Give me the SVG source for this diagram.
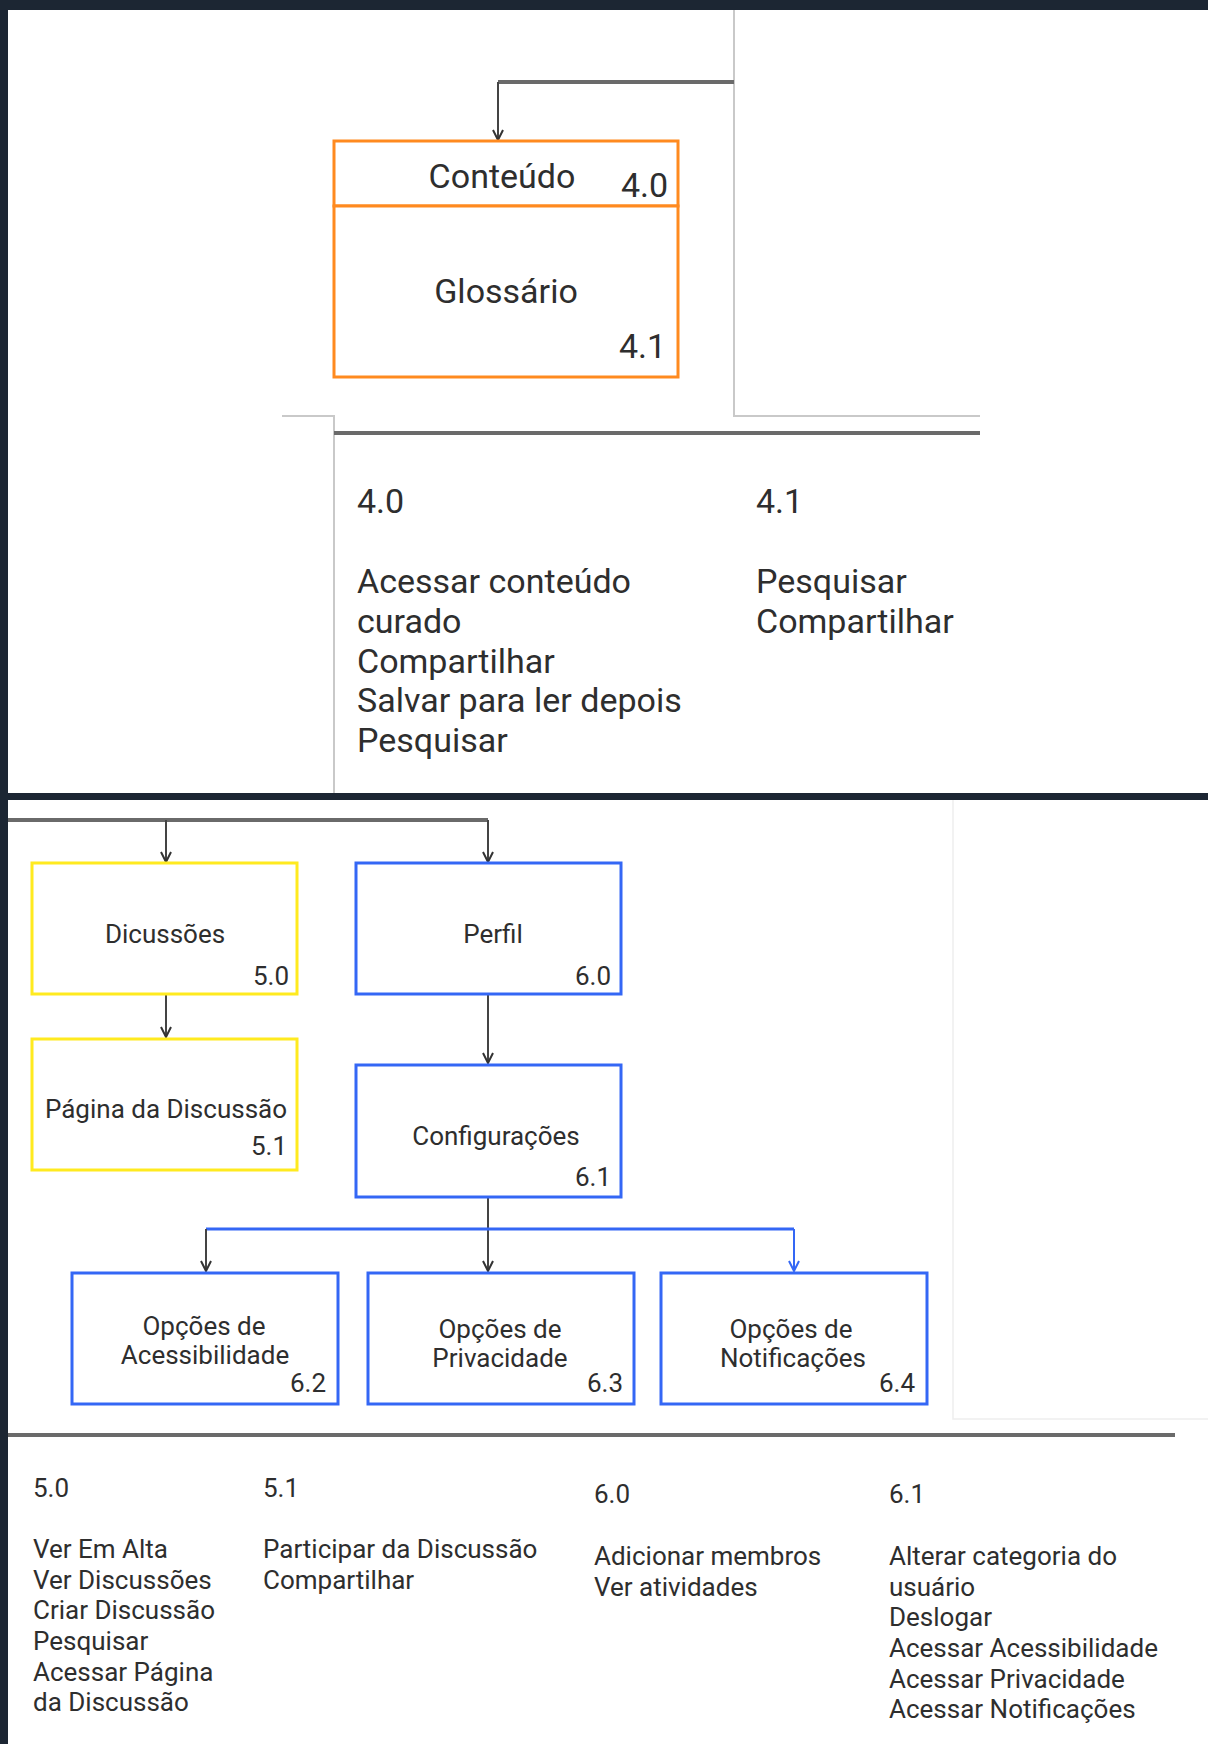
<svg xmlns="http://www.w3.org/2000/svg" width="1208" height="1744" viewBox="0 0 1208 1744">
<style>
.t34{font-family:Roboto,"Liberation Sans",sans-serif;font-size:34px;fill:#2e2e2e}
.t26{font-family:Roboto,"Liberation Sans",sans-serif;font-size:26px;fill:#2e2e2e}
.mid{text-anchor:middle}
.orange{fill:#fff;stroke:#ff8a1f;stroke-width:3}
.yellow{fill:#fff;stroke:#ffea1f;stroke-width:3}
.blue{fill:#fff;stroke:#3467f5;stroke-width:3}
.thick{stroke:#6a6a6a;stroke-width:4;fill:none}
.thin{stroke:#c9c9c9;stroke-width:2;fill:none}
.faint{stroke:#eeeeee;stroke-width:1.5;fill:none}
.conn{stroke:#444;stroke-width:2;fill:none}
.connb{stroke:#3467f5;stroke-width:3;fill:none}
</style>
<defs>
<marker id="arr" viewBox="0 0 12 12" refX="11" refY="6" markerWidth="12" markerHeight="12" markerUnits="userSpaceOnUse" orient="auto">
<path d="M1,1 L11,6 L1,11" fill="none" stroke="#333" stroke-width="2"/>
</marker>
<marker id="arrb" viewBox="0 0 12 12" refX="11" refY="6" markerWidth="12" markerHeight="12" markerUnits="userSpaceOnUse" orient="auto">
<path d="M1,1 L11,6 L1,11" fill="none" stroke="#3467f5" stroke-width="2"/>
</marker>
</defs>
<rect x="0" y="0" width="1208" height="1744" fill="#ffffff"/>
<g id="frame">
<rect x="0" y="0" width="1208" height="10" fill="#1c2633"/>
<rect x="0" y="0" width="8" height="1744" fill="#1c2633"/>
<rect x="0" y="793" width="1208" height="7" fill="#1c2633"/>
<path class="thin" d="M734,10 V416 H980"/>
<path class="thin" d="M282,416 H334 V793"/>
<path class="thick" d="M334,433 H980"/>
<path class="faint" d="M953,800 V1419 H1208"/>
<path class="thick" d="M8,1435 H1175"/>
</g>
<g id="connectors">
<path class="thick" d="M734,82 H498"/>
<path class="conn" d="M498,82 V140" marker-end="url(#arr)"/>
<path class="thick" d="M8,820 H488"/>
<path class="conn" d="M166,820 V862" marker-end="url(#arr)"/>
<path class="conn" d="M488,820 V862" marker-end="url(#arr)"/>
<path class="conn" d="M166,995 V1037" marker-end="url(#arr)"/>
<path class="conn" d="M488,995 V1063" marker-end="url(#arr)"/>
<path class="conn" d="M488,1198 V1271" marker-end="url(#arr)"/>
<path class="connb" d="M206,1229 H794"/>
<path class="conn" d="M206,1229 V1271" marker-end="url(#arr)"/>
<path class="conn" d="M794,1229 V1271" style="stroke:#3467f5" marker-end="url(#arrb)"/>
</g>
<g id="n40">
<rect class="orange" x="334" y="141" width="344" height="65"/>
<text class="t34 mid" x="502" y="188">Conteúdo</text>
<text class="t34" x="621" y="197">4.0</text>
</g>
<g id="n41">
<rect class="orange" x="334" y="206" width="344" height="171"/>
<text class="t34 mid" x="506" y="303">Glossário</text>
<text class="t34" x="619" y="358">4.1</text>
</g>
<g id="legend4">
<text class="t34" x="357" y="513">4.0</text>
<text class="t34" x="357" y="593">Acessar conteúdo</text>
<text class="t34" x="357" y="633">curado</text>
<text class="t34" x="357" y="673">Compartilhar</text>
<text class="t34" x="357" y="712">Salvar para ler depois</text>
<text class="t34" x="357" y="752">Pesquisar</text>
<text class="t34" x="756" y="513">4.1</text>
<text class="t34" x="756" y="593">Pesquisar</text>
<text class="t34" x="756" y="633">Compartilhar</text>
</g>
<g id="n50">
<rect class="yellow" x="32" y="863" width="265" height="131"/>
<text class="t26 mid" x="165" y="943">Dicussões</text>
<text class="t26" x="253" y="985">5.0</text>
</g>
<g id="n51">
<rect class="yellow" x="32" y="1039" width="265" height="131"/>
<text class="t26 mid" x="166" y="1118">Página da Discussão</text>
<text class="t26" x="251" y="1155">5.1</text>
</g>
<g id="n60">
<rect class="blue" x="356" y="863" width="265" height="131"/>
<text class="t26 mid" x="493" y="943">Perfil</text>
<text class="t26" x="575" y="985">6.0</text>
</g>
<g id="n61">
<rect class="blue" x="356" y="1065" width="265" height="132"/>
<text class="t26 mid" x="496" y="1145">Configurações</text>
<text class="t26" x="575" y="1186">6.1</text>
</g>
<g id="n62">
<rect class="blue" x="72" y="1273" width="266" height="131"/>
<text class="t26 mid" x="204" y="1335">Opções de</text>
<text class="t26 mid" x="205" y="1364">Acessibilidade</text>
<text class="t26" x="290" y="1392">6.2</text>
</g>
<g id="n63">
<rect class="blue" x="368" y="1273" width="266" height="131"/>
<text class="t26 mid" x="500" y="1338">Opções de</text>
<text class="t26 mid" x="500" y="1367">Privacidade</text>
<text class="t26" x="587" y="1392">6.3</text>
</g>
<g id="n64">
<rect class="blue" x="661" y="1273" width="266" height="131"/>
<text class="t26 mid" x="791" y="1338">Opções de</text>
<text class="t26 mid" x="793" y="1367">Notificações</text>
<text class="t26" x="879" y="1392">6.4</text>
</g>
<g id="legend56">
<text class="t26" x="33" y="1497">5.0</text>
<text class="t26" x="33" y="1558">Ver Em Alta</text>
<text class="t26" x="33" y="1589">Ver Discussões</text>
<text class="t26" x="33" y="1619">Criar Discussão</text>
<text class="t26" x="33" y="1650">Pesquisar</text>
<text class="t26" x="33" y="1681">Acessar Página</text>
<text class="t26" x="33" y="1711">da Discussão</text>
<text class="t26" x="263" y="1497">5.1</text>
<text class="t26" x="263" y="1558">Participar da Discussão</text>
<text class="t26" x="263" y="1589">Compartilhar</text>
<text class="t26" x="594" y="1503">6.0</text>
<text class="t26" x="594" y="1565">Adicionar membros</text>
<text class="t26" x="594" y="1596">Ver atividades</text>
<text class="t26" x="889" y="1503">6.1</text>
<text class="t26" x="889" y="1565">Alterar categoria do</text>
<text class="t26" x="889" y="1596">usuário</text>
<text class="t26" x="889" y="1626">Deslogar</text>
<text class="t26" x="889" y="1657">Acessar Acessibilidade</text>
<text class="t26" x="889" y="1688">Acessar Privacidade</text>
<text class="t26" x="889" y="1718">Acessar Notificações</text>
</g>
</svg>
